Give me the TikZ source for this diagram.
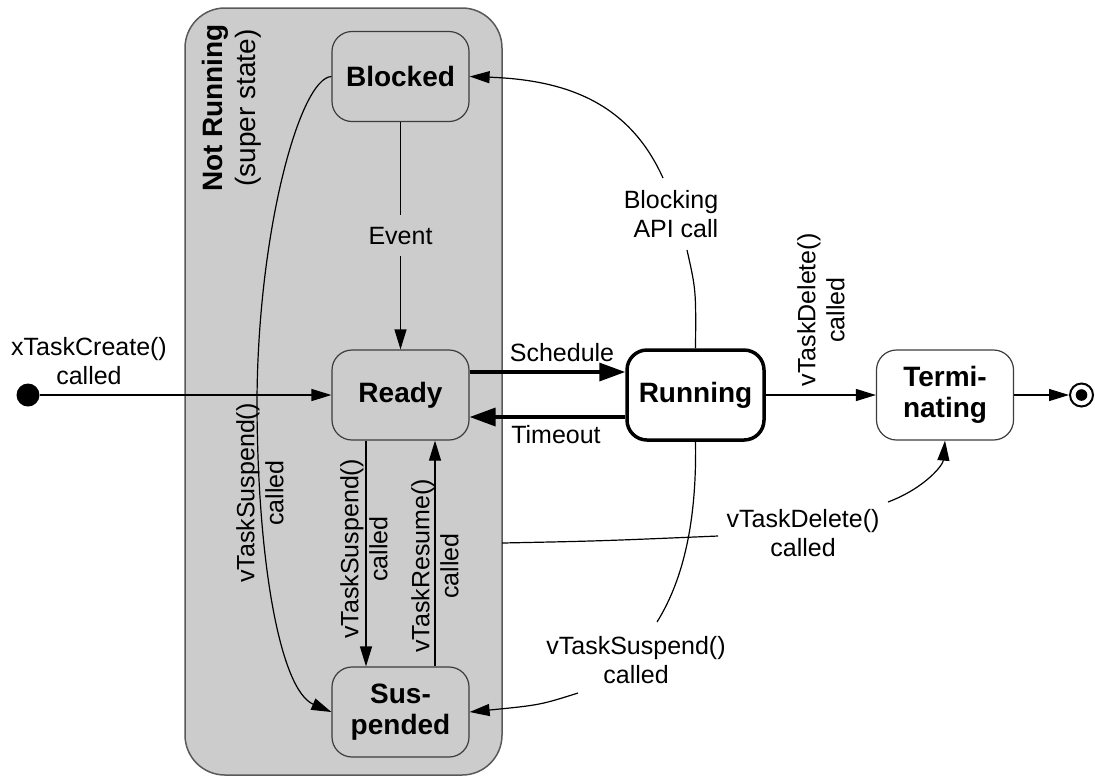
\documentclass[tikz,border=0pt]{standalone}
\usepackage{fontspec}
\setmainfont{Liberation Sans}
\usetikzlibrary{arrows.meta}
\definecolor{supergray}{RGB}{204,204,204}
\definecolor{edgegray}{RGB}{60,60,60}
\begin{document}
\begin{tikzpicture}[x=0.5pt,y=-0.5pt,
  state/.style={draw=edgegray, line width=0.6pt, rounded corners=10pt,
    minimum width=68.5pt, minimum height=45pt, inner sep=2pt, align=center,
    font=\fontsize{14}{15.5}\selectfont\bfseries},
  nrstate/.style={state, fill=supergray},
  wstate/.style={state, fill=white},
  lbl/.style={font=\fontsize{12.5}{14.5}\selectfont, align=center, inner sep=1pt},
  ln/.style={line width=0.6pt},
  tr/.style={line width=0.6pt, -{Triangle[length=10pt,width=6pt]}},
  thicktr/.style={line width=1.75pt, -{Triangle[length=13pt,width=9pt]}}
]
\useasboundingbox (0,0) rectangle (1095,778);

% super state
\node[draw=black!65, line width=0.75pt, fill=supergray, rounded corners=20pt,
  minimum width=158.5pt, minimum height=383.5pt, inner sep=0pt] (nr) at (343.5,391.5) {};
\node[rotate=90, align=center, font=\fontsize{14}{16.5}\selectfont] (nrlbl) at (232,108)
  {\textbf{Not Running}\\(super state)};

% states
\node[nrstate] (blk) at (400.5,76.5) {Blocked};
\node[nrstate] (rdy) at (400.5,395) {Ready};
\node[nrstate] (sus) at (400.5,712) {Sus-\\pended};
\node[wstate, draw=black, line width=1.75pt] (run) at (695.5,395) {Running};
\node[wstate] (term) at (945,395) {Termi-\\nating};

% pseudo states
\node[circle, fill=black, minimum size=11.5pt, inner sep=0pt] (init) at (28,395) {};
\node[circle, draw=black, line width=1pt, fill=white, minimum size=11.5pt, inner sep=0pt] (fin) at (1081.5,395) {};
\node[circle, fill=black, minimum size=5.8pt, inner sep=0pt] (fincore) at (fin.center) {};

% coordinates for broken connectors
\coordinate (rb1) at (687,250);
\coordinate (rb2) at (663,178);
\coordinate (rs1) at (657,622);
\coordinate (rs2) at (578,693);
\coordinate (nrd) at (502,543);
\coordinate (rt1) at (718,536);
\coordinate (rt2) at (888,502);
\coordinate (bs1) at (257,400);

% connectors
\draw[tr] (init) -- (rdy.west);
\node[lbl] (lcreate) at (89,361) {xTaskCreate()\\called};

\draw[tr] (blk.south) -- node[lbl, fill=supergray, inner ysep=6pt] (levent) {Event} (rdy.north);

\draw[thicktr] ([yshift=11.5pt]rdy.east) -- ([yshift=11.5pt]run.west);
\node[lbl] (lsched) at (562,353) {Schedule};
\draw[thicktr] ([yshift=-11pt]run.west) -- ([yshift=-11pt]rdy.east);
\node[lbl] (ltime) at (556,435) {Timeout};

\draw[ln] (run.north) .. controls (696,290) .. (rb1);
\draw[tr] (rb2) .. controls (630,105) and (570,80) .. (blk.east);
\node[lbl, align=right] (lblock) at (671,214) {Blocking\\API call};

\draw[tr] (run.east) -- (term.west);
\node[lbl, rotate=90] (ldel1) at (821,310) {vTaskDelete()\\called};

\draw[tr] (term.east) -- (fin.west);

\draw[tr] ([xshift=-17.25pt]rdy.south) -- ([xshift=-17.25pt]sus.north);
\node[lbl, rotate=90] (lsus1) at (364,549) {vTaskSuspend()\\called};
\draw[tr] ([xshift=17.25pt]sus.north) -- ([xshift=17.25pt]rdy.south);
\node[lbl, rotate=90] (lres) at (435,566) {vTaskResume()\\called};

\draw[tr] (blk.west) .. controls (300,78) and (258,230) .. (bs1)
  .. controls (257,560) and (280,690) .. (sus.west);
\node[lbl, rotate=90] (lsus2) at (260,493) {vTaskSuspend()\\called};

\draw[ln] (run.south) .. controls (697,530) and (680,585) .. (rs1);
\draw[tr] (rs2) .. controls (540,705) .. (sus.east);
\node[lbl] (lsus3) at (636,660) {vTaskSuspend()\\called};

\draw[ln] (nrd) .. controls (600,541) .. (rt1);
\draw[tr] (rt2) .. controls (925,488) and (943,465) .. (term.south);
\node[lbl] (ldel2) at (803,533) {vTaskDelete()\\called};
\end{tikzpicture}
\end{document}
